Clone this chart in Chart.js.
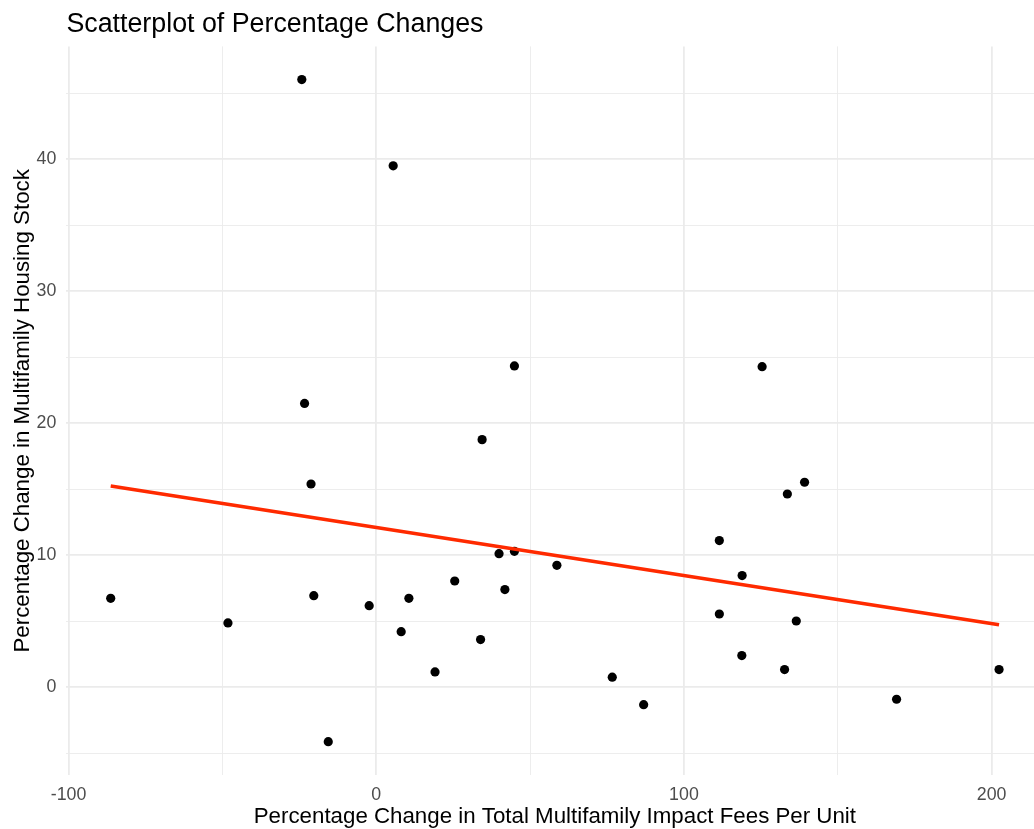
<!DOCTYPE html>
<html>
<head>
<meta charset="utf-8">
<script src="https://cdn.jsdelivr.net/npm/chart.js@4.4.1/dist/chart.umd.min.js"></script>
<style>
html,body{margin:0;padding:0;background:#fff;}
#wrap{width:1034px;height:829px;}
</style>
</head>
<body>
<div id="wrap"><canvas id="c" width="1034" height="829"></canvas></div>
<script>
// Data
const feeChange = [-86.3, -48.2, -24.2, -23.3, -21.2, -20.3, -15.6, -2.3, 5.5, 8.1, 10.6, 19.1, 25.5, 33.9, 34.4, 39.9, 41.8, 44.9, 44.9, 58.7, 76.7, 86.9, 111.5, 111.5, 118.8, 118.9, 125.4, 132.7, 133.6, 136.5, 139.2, 169.1, 202.4];
const stockChange = [6.74, 4.87, 46.04, 21.5, 15.4, 6.94, -4.12, 6.18, 39.5, 4.21, 6.74, 1.16, 8.05, 3.61, 18.76, 10.12, 7.4, 10.3, 24.34, 9.24, 0.76, -1.32, 11.11, 5.55, 2.4, 8.46, 24.29, 1.34, 14.64, 5.02, 15.53, -0.91, 1.34];
const fitX = [-86.3, 202.4];
const fitY = [15.25, 4.74];
const xTicks = [-100, -50, 0, 50, 100, 150, 200];
const xLabelTicks = [-100, 0, 100, 200];
const yTicks = [-5, 0, 5, 10, 15, 20, 25, 30, 35, 40, 45];
const yLabelTicks = [0, 10, 20, 30, 40];
const titleText = 'Scatterplot of Percentage Changes';
const xTitle = 'Percentage Change in Total Multifamily Impact Fees Per Unit';
const yTitle = 'Percentage Change in Multifamily Housing Stock';

// x panel range (the panel runs slightly past the right edge of the picture)
const xPanelMin = -100.7, xPanelMax = 216.8, xVisibleMax = 213.76;

const FONT = "'Liberation Sans', Arial, Helvetica, sans-serif";
const points = feeChange.map((x, i) => ({x: x, y: stockChange[i]}));
const fit = fitX.map((x, i) => ({x: x, y: fitY[i]}));

const titlePlugin = {
  id: 'ggTitle',
  afterDraw(chart) {
    const ctx = chart.ctx;
    ctx.save();
    ctx.fillStyle = '#000';
    ctx.textBaseline = 'alphabetic';
    ctx.font = '26.8px ' + FONT;
    ctx.textAlign = 'left';
    ctx.fillText(titleText, chart.chartArea.left, 31.5);
    // x axis title centred on the full panel
    const xs = chart.scales.x;
    const cx = xs.getPixelForValue((xPanelMin + xPanelMax) / 2);
    ctx.font = '22.3px ' + FONT;
    ctx.textAlign = 'center';
    ctx.fillText(xTitle, cx, 823.3);
    ctx.restore();
  }
};

const gridColor = '#ebebeb';
function gridWidth(labels) {
  return (c) => (c.tick && labels.includes(c.tick.value)) ? 1.8 : 0.9;
}

new Chart(document.getElementById('c'), {
  type: 'scatter',
  data: {
    datasets: [
      {
        type: 'line',
        data: fit,
        borderColor: '#ff2a00',
        borderWidth: 3.6,
        pointRadius: 0,
        fill: false,
        order: 0
      },
      {
        type: 'scatter',
        data: points,
        backgroundColor: '#000',
        borderWidth: 0,
        pointRadius: 4.6,
        order: 1
      }
    ]
  },
  options: {
    responsive: false,
    animation: false,
    layout: {autoPadding: false, padding: {top: 46.4, left: 0, right: 0, bottom: 0}},
    plugins: {legend: {display: false}, tooltip: {enabled: false}, title: {display: false}},
    scales: {
      x: {
        type: 'linear',
        min: xPanelMin,
        max: xVisibleMax,
        border: {display: false},
        afterBuildTicks: (s) => { s.ticks = xTicks.map(v => ({value: v})); },
        afterFit: (s) => { s.height = 829 - 775.3; },
        grid: {color: gridColor, lineWidth: gridWidth(xLabelTicks), drawTicks: false},
        ticks: {
          color: '#4d4d4d',
          font: {family: FONT, size: 17.8},
          padding: 9,
          maxRotation: 0,
          autoSkip: false,
          callback: (v) => xLabelTicks.includes(v) ? String(v) : ''
        },
        title: {display: false}
      },
      y: {
        type: 'linear',
        min: -6.67,
        max: 48.55,
        border: {display: false},
        afterBuildTicks: (s) => { s.ticks = yTicks.map(v => ({value: v})); },
        afterFit: (s) => { s.width = 66.4; },
        grid: {color: gridColor, lineWidth: gridWidth(yLabelTicks), drawTicks: false},
        ticks: {
          color: '#4d4d4d',
          font: {family: FONT, size: 17.8},
          padding: 10,
          autoSkip: false,
          callback: (v) => yLabelTicks.includes(v) ? String(v) : ''
        },
        title: {
          display: true,
          text: yTitle,
          color: '#000',
          font: {family: FONT, size: 22.3},
          padding: {top: 9, bottom: 0}
        }
      }
    }
  },
  plugins: [titlePlugin]
});
</script>
</body>
</html>
